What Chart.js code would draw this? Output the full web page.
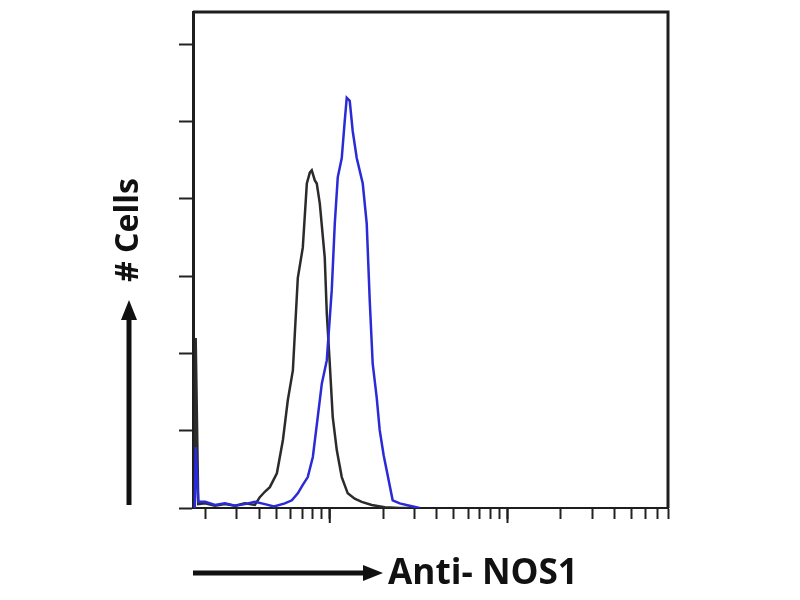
<!DOCTYPE html>
<html><head><meta charset="utf-8">
<script src="https://cdn.jsdelivr.net/npm/chart.js@4.4.1/dist/chart.umd.min.js"></script>
<style>html,body{margin:0;padding:0;background:#fff}#wrap{width:800px;height:600px}</style>
</head><body><div id="wrap"><canvas id="c" width="800" height="600"></canvas></div>
<script>
// Tick values (log x axis, linear y axis)
const xTickValues = [20,30,40,50,60,70,80,90,100,200,300,400,500,600,700,800,900,1000,2000,3000,4000,5000,6000,7000,8000];
const xMajorTicks = [100,1000];
const yTickValues = [0,1,2,3,4,5,6];
const xTitle = 'Anti- NOS1';
const yTitle = '# Cells';

// Control (black) histogram
const blackX = [17.4,17.6,18.2,19.9,22.6,25.7,29.3,33.3,37.9,40.4,43.1,46.0,50.4,54.5,58.1,62.0,63.6,66.1,70.5,74.3,77.2,79.2,82.4,84.5,87.9,93.7,96.2,100,103.9,109.5,116.8,126.2,138.1,151.3,172.2,203.7,247.4,300];
const blackY = [0,2.2,0.05,0.06,0.03,0.05,0.03,0.06,0.04,0.14,0.21,0.27,0.45,0.88,1.40,1.78,2.26,2.98,3.37,4.20,4.34,4.37,4.24,4.20,3.94,3.24,2.52,1.87,1.18,0.75,0.40,0.19,0.12,0.08,0.04,0.01,0,0];

// Anti-NOS1 (blue) histogram
const blueX = [17.4,17.6,18.2,19.9,22.6,25.7,29.3,33.3,37.9,43.1,48.5,55.9,61.2,66.1,70.5,75.2,80.3,85.6,90.2,96.2,102.6,106.7,110.9,116.8,121.4,124.6,129.5,134.6,141.8,153.3,161.4,167.8,174.4,183.7,190.9,201.1,209.0,225.9,247.4,281.5,320];
const blueY = [0,0.79,0.08,0.08,0.04,0.06,0.03,0.05,0.08,0.05,0.02,0.06,0.10,0.19,0.30,0.40,0.66,1.18,1.61,1.91,2.82,3.68,4.28,4.53,5.01,5.31,5.27,4.88,4.53,4.20,3.68,2.69,1.87,1.43,1.01,0.68,0.49,0.10,0.06,0.03,0.0];

function fitFont(ctx, text, targetWidth) {
  ctx.font = 'bold 30px "Open Sans"';
  const w = ctx.measureText(text).width;
  const size = 30 * targetWidth / w;
  ctx.font = 'bold ' + size.toFixed(1) + 'px "Open Sans"';
}

const decor = {
  id: 'decor',
  afterDraw(chart) {
    const {ctx, chartArea: a, scales} = chart;
    ctx.save();
    ctx.strokeStyle = '#1e1e1e';
    ctx.lineWidth = 3;
    ctx.beginPath();
    ctx.moveTo(a.left, a.top);
    ctx.lineTo(a.right, a.top);
    ctx.lineTo(a.right, a.bottom);
    ctx.stroke();
    // longer major ticks
    ctx.lineWidth = 2;
    xMajorTicks.forEach(v => {
      const px = scales.x.getPixelForValue(v);
      ctx.beginPath(); ctx.moveTo(px, a.bottom); ctx.lineTo(px, a.bottom + 15); ctx.stroke();
    });
    // y title + arrow
    ctx.fillStyle = '#111';
    ctx.strokeStyle = '#111';
    const ax = a.left - 64;
    ctx.save();
    ctx.translate(ax, 230);
    ctx.rotate(-Math.PI / 2);
    fitFont(ctx, yTitle, 104);
    ctx.textAlign = 'center';
    ctx.textBaseline = 'middle';
    ctx.fillText(yTitle, 0, 0);
    ctx.restore();
    ctx.lineWidth = 5;
    ctx.beginPath(); ctx.moveTo(ax, a.bottom - 3); ctx.lineTo(ax, 316); ctx.stroke();
    ctx.beginPath(); ctx.moveTo(ax, 300); ctx.lineTo(ax - 8, 320); ctx.lineTo(ax + 8, 320); ctx.closePath(); ctx.fill();
    // x arrow + title
    const ay = 573;
    ctx.beginPath(); ctx.moveTo(a.left, ay); ctx.lineTo(368, ay); ctx.stroke();
    ctx.beginPath(); ctx.moveTo(383, ay); ctx.lineTo(363, ay - 8); ctx.lineTo(363, ay + 8); ctx.closePath(); ctx.fill();
    fitFont(ctx, xTitle, 190);
    ctx.textAlign = 'left';
    ctx.textBaseline = 'middle';
    ctx.fillText(xTitle, 388, ay + 1);
    ctx.restore();
  }
};

new Chart(document.getElementById('c'), {
  type: 'line',
  data: {
    datasets: [
      { label: 'Anti-NOS1', data: blueX.map((x, i) => ({x, y: blueY[i]})), borderColor: '#2a2ad6', borderWidth: 2.5, pointRadius: 0, tension: 0, fill: false },
      { label: 'Control', data: blackX.map((x, i) => ({x, y: blackY[i]})), borderColor: '#2b2b2b', borderWidth: 2.5, pointRadius: 0, tension: 0, fill: false }
    ]
  },
  options: {
    responsive: false,
    animation: false,
    plugins: { legend: { display: false }, tooltip: { enabled: false } },
    layout: { padding: { top: 12, right: 132, left: 0, bottom: 0 } },
    scales: {
      x: {
        type: 'logarithmic', min: 17, max: 8000,
        afterBuildTicks: s => { s.ticks = xTickValues.map(v => ({value: v})); },
        ticks: { callback: () => '', autoSkip: false, maxRotation: 0 },
        grid: { drawOnChartArea: false, drawTicks: true, tickLength: 11, tickColor: '#222', tickWidth: 2 },
        border: { display: true, color: '#1e1e1e', width: 2 },
        afterFit: s => { s.height = 92; }
      },
      y: {
        type: 'linear', min: 0, max: 6.42,
        afterBuildTicks: s => { s.ticks = yTickValues.map(v => ({value: v})); },
        ticks: { callback: () => '' },
        grid: { drawOnChartArea: false, drawTicks: true, tickLength: 14, tickColor: '#222', tickWidth: 2 },
        border: { display: true, color: '#1e1e1e', width: 3 },
        afterFit: s => { s.width = 193; }
      }
    }
  },
  plugins: [decor]
});
</script>
</body></html>
